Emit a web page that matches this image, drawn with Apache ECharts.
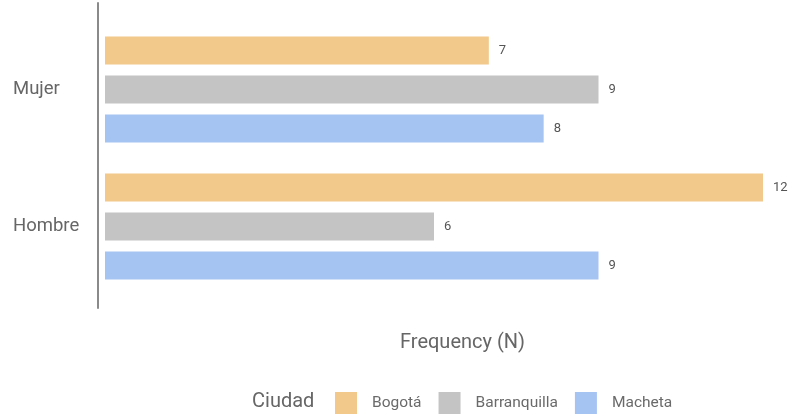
<!DOCTYPE html>
<html>
<head>
<meta charset="utf-8">
<script src="https://cdn.jsdelivr.net/npm/echarts@6/dist/echarts.min.js"></script>
<style>html,body{margin:0;padding:0;background:#fff}#c{width:793px;height:416px}</style>
</head>
<body>
<div id="c"></div>
<script>
const categories = ['Mujer', 'Hombre'];
const seriesNames = ['Bogotá', 'Barranquilla', 'Macheta'];
const bogota = [7, 12];
const barranquilla = [9, 6];
const macheta = [8, 9];
const colors = ['#F2C98B', '#C4C4C4', '#A6C4F2'];
const xMax = 12;

const values = [bogota, barranquilla, macheta];
const chart = echarts.init(document.getElementById('c'), null, {renderer: 'canvas'});
chart.setOption({
  animation: false,
  backgroundColor: '#fff',
  title: [
    {text: 'Frequency (N)', left: 400, top: 333, padding: 0,
     textStyle: {fontFamily: 'Roboto', fontSize: 20, fontWeight: 'normal', color: '#666'}},
    {text: 'Ciudad', left: 252, top: 392, padding: 0,
     textStyle: {fontFamily: 'Roboto', fontSize: 20, fontWeight: 'normal', color: '#666'}}
  ],
  legend: {
    data: seriesNames,
    left: 335, top: 392, padding: 0,
    itemWidth: 22, itemHeight: 22, itemGap: 17,
    icon: 'rect',
    textStyle: {fontFamily: 'Roboto', fontSize: 15.5, color: '#6a6a6a', padding: [0, 0, 0, 10]}
  },
  grid: [
    {left: 105, right: 30, top: 21, bottom: 121},
    {left: 98, right: 30, top: 3, bottom: 108}
  ],
  xAxis: [
    {type: 'value', gridIndex: 0, min: 0, max: xMax, show: false},
    {type: 'value', gridIndex: 1, min: 0, max: 1, show: false}
  ],
  yAxis: [
    {type: 'category', gridIndex: 0, data: categories, inverse: true,
     axisLine: {show: false}, axisTick: {show: false},
     axisLabel: {align: 'left', margin: 92, fontFamily: 'Roboto', fontSize: 18.5, color: '#666'}},
    {type: 'value', gridIndex: 1, min: 0, max: 1,
     axisLine: {show: true, lineStyle: {color: '#8a8a8a', width: 2}},
     axisTick: {show: false}, axisLabel: {show: false}, splitLine: {show: false}}
  ],
  series: seriesNames.map((n, i) => ({
    name: n, type: 'bar', xAxisIndex: 0, yAxisIndex: 0,
    data: values[i], barWidth: 28, barGap: '39%',
    itemStyle: {color: colors[i]},
    label: {show: true, position: 'right', distance: 10, fontFamily: 'Roboto', fontSize: 13, color: '#555'}
  }))
});
</script>
</body>
</html>
